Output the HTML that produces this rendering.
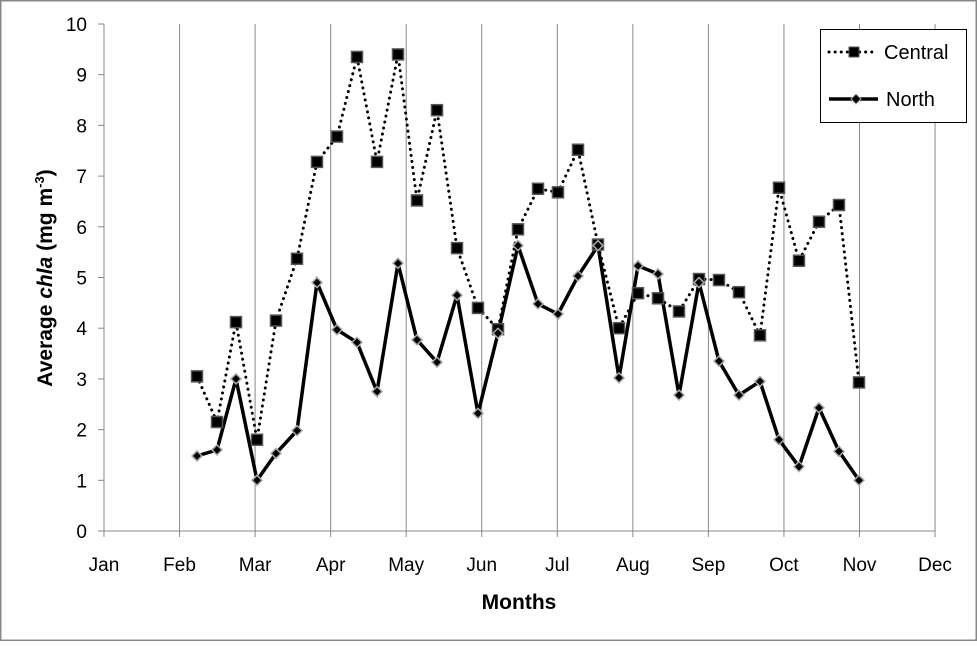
<!DOCTYPE html>
<html><head><meta charset="utf-8"><style>
body{margin:0;background:#fff}
svg text{font-family:"Liberation Sans",sans-serif}
</style></head><body>
<svg width="977" height="641" xmlns="http://www.w3.org/2000/svg" id="s">
<rect x="0.5" y="0.5" width="976" height="640" fill="#fff" stroke="#888" stroke-width="2"/>
<g id="g"></g>
</svg>
<script>
const g=document.getElementById('g');
let h='';
const X0=104,DX=75.55,Y0=531,DY=50.7;
const yv=v=>Y0-v*DY;
for(let i=1;i<=11;i++){const x=X0+i*DX;h+=`<line x1="${x}" y1="24" x2="${x}" y2="537" stroke="#888" stroke-width="1"/>`;}
h+=`<line x1="${X0}" y1="24" x2="${X0}" y2="537" stroke="#888"/>`;
h+=`<line x1="${X0}" y1="${Y0}" x2="${X0+11*DX}" y2="${Y0}" stroke="#888"/>`;
for(let v=0;v<=10;v++){const y=yv(v);h+=`<line x1="98" y1="${y}" x2="${X0}" y2="${y}" stroke="#888"/><text x="87" y="${y+7}" font-size="19" text-anchor="end">${v}</text>`;}
const m=['Jan','Feb','Mar','Apr','May','Jun','Jul','Aug','Sep','Oct','Nov','Dec'];
m.forEach((t,i)=>h+=`<text x="${X0+i*DX}" y="571" font-size="19" text-anchor="middle">${t}</text>`);
h+=`<text x="519" y="609" font-size="21" font-weight="bold" text-anchor="middle">Months</text>`;
h+=`<text transform="translate(52,278) rotate(-90)" font-size="21" font-weight="bold" text-anchor="middle">Average <tspan font-style="italic">chla</tspan>  (mg m<tspan font-size="13" dy="-8">-3</tspan><tspan dy="8">)</tspan></text>`;
const xs=[197,217,236,257,276,297,317,337,357,377,398,417,437,457,478,498,518,538,558,578,598,619,638,658,679,699,719,739,760,779,799,819,839,859];
const C=[3.05,2.15,4.12,1.8,4.15,5.37,7.28,7.78,9.35,7.28,9.4,6.52,8.3,5.58,4.4,3.98,5.95,6.75,6.68,7.52,5.65,4.0,4.69,4.59,4.33,4.97,4.95,4.71,3.86,6.77,5.33,6.1,6.43,2.93];
const N=[1.48,1.6,3.0,1.0,1.53,1.98,4.9,3.97,3.72,2.75,5.28,3.77,3.33,4.65,2.32,3.9,5.63,4.48,4.28,5.03,5.63,3.02,5.23,5.07,2.68,4.9,3.35,2.68,2.95,1.8,1.27,2.43,1.57,1.0];
const pc=xs.map((x,i)=>x+','+yv(C[i]).toFixed(1)).join(' ');
const pn=xs.map((x,i)=>x+','+yv(N[i]).toFixed(1)).join(' ');
h+=`<polyline points="${pc}" fill="none" stroke="#000" stroke-width="3" stroke-dasharray="0.1 6" stroke-linecap="round"/>`;
h+=`<polyline points="${pn}" fill="none" stroke="#000" stroke-width="3.5" stroke-linejoin="miter"/>`;
xs.forEach((x,i)=>{const y=yv(C[i]);h+=`<rect x="${x-5.5}" y="${y-5.5}" width="11" height="11" fill="#000" stroke="#555" stroke-width="1.5"/>`;});
xs.forEach((x,i)=>{const y=yv(N[i]);h+=`<polygon points="${x},${y-5} ${x+5},${y} ${x},${y+5} ${x-5},${y}" fill="#000" stroke="#aaa" stroke-width="1.5"/>`;});
h+=`<rect x="820.5" y="29.5" width="146" height="93" fill="#fff" stroke="#000"/>`;
h+=`<line x1="829" y1="52" x2="876" y2="52" stroke="#000" stroke-width="3" stroke-dasharray="0.1 6" stroke-linecap="round"/><rect x="849" y="47" width="10" height="10" fill="#000" stroke="#555"/>`;
h+=`<text x="884" y="59" font-size="20">Central</text>`;
h+=`<line x1="829" y1="99" x2="878" y2="99" stroke="#000" stroke-width="3.5"/><polygon points="856,94 861,99 856,104 851,99" fill="#000" stroke="#aaa"/>`;
h+=`<text x="886" y="106" font-size="20">North</text>`;
g.innerHTML=h;
</script>
</body></html>
